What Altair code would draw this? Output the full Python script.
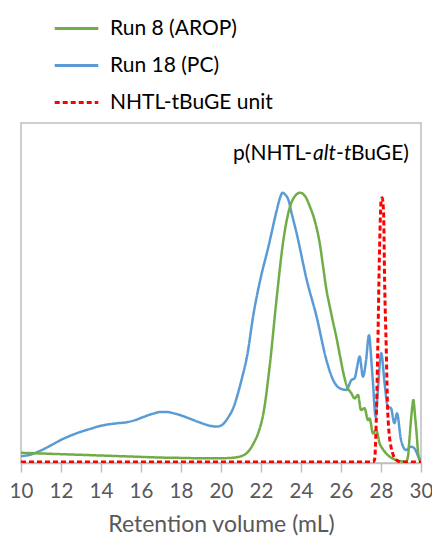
import altair as alt
import pandas as pd

# ---- data ----
series_names = ["Run 8 (AROP)", "Run 18 (PC)", "NHTL-tBuGE unit"]
series_colors = ["#70AD47", "#5B9BD5", "#FF0000"]

green_x = [10, 11, 12, 13, 14, 15, 16, 17, 18, 19, 20, 20.5, 21, 21.3, 21.63, 21.9, 22.12,
           22.45, 22.79, 23.12, 23.45, 23.7, 23.95, 24.2, 24.44, 24.7, 24.94, 25.1, 25.27,
           25.44, 25.6, 25.77, 25.95, 26.1, 26.3, 26.52, 26.68, 26.85, 27.0, 27.18, 27.35,
           27.43, 27.6, 27.76, 27.93, 28.1, 28.26, 28.5, 28.76, 29.0, 29.25, 29.35, 29.42,
           29.52, 29.62, 29.7, 29.78, 29.85, 29.92, 30.0]
green_y = [3.0, 2.8, 2.6, 2.4, 2.2, 2.0, 1.8, 1.6, 1.5, 1.4, 1.4, 1.5, 2.0, 3.0, 5.8, 9.5, 14.6,
           29.3, 48.9, 65.6, 75.4, 78.5, 79.5, 78.5, 75.5, 71.0, 64.5, 58.0, 51.0,
           46.0, 41.5, 37.0, 31.5, 27.0, 22.5, 20.5, 19.0, 20.0, 15.6, 16.1, 12.6,
           13.1, 8.7, 9.7, 5.8, 4.0, 2.8, 1.6, 0.9, 0.5, 0.4, 2.0, 6.8,
           14.0, 18.5, 14.0, 8.7, 3.5, 0.9, 0.5]

blue_x = [10, 10.5, 10.85, 11.5, 12, 12.5, 13, 13.5, 13.83, 14.3, 14.83, 15.3, 15.7, 16.15,
          16.6, 16.98, 17.3, 17.65, 18.1, 18.5, 18.9, 19.3, 19.6, 19.8, 20.05, 20.38, 20.6,
          20.8, 21.05, 21.3, 21.63, 21.96, 22.37, 22.79, 22.95, 23.08, 23.2, 23.37, 23.55,
          23.78, 24.28, 24.78, 25.27, 25.6, 25.93, 26.27, 26.52, 26.68, 26.8, 26.93, 27.1,
          27.25, 27.4, 27.52, 27.6, 27.73, 27.85, 28.01, 28.18, 28.34, 28.5, 28.67, 28.8,
          29.0, 29.25, 29.5, 29.67, 29.92, 30.0]
blue_y = [2.0, 2.5, 3.3, 5.2, 6.8, 8.1, 9.2, 10.1, 10.7, 11.3, 11.7, 12.0, 12.6, 13.6,
          14.5, 15.0, 15.0, 14.6, 13.8, 12.9, 12.0, 11.2, 10.8, 10.7, 11.2, 13.6, 16.0,
          19.5, 25.0, 31.3, 44.0, 53.8, 63.6, 74.4, 78.0, 79.5, 79.0, 77.4, 73.0,
          67.6, 54.0, 43.0, 30.3, 24.5, 22.0, 21.5, 24.4, 24.9, 28.0, 31.3, 25.4,
          30.0, 37.6, 30.0, 23.4, 13.6, 22.0, 32.3, 23.4, 16.6, 16.1, 11.7, 14.6,
          6.8, 3.8, 4.8, 4.3, 1.4, 1.0]

red_x = [10, 27.6, 27.68, 27.76, 27.84, 27.93, 28.01, 28.06, 28.13, 28.18, 28.26, 28.34,
         28.5, 28.76, 29.0, 30.0]
red_y = [0.3, 0.3, 1.0, 12.0, 34.2, 63.6, 77.4, 78.0, 73.4, 53.8, 34.2, 14.6,
         4.8, 0.9, 0.3, 0.3]

x_ticks = [10, 12, 14, 16, 18, 20, 22, 24, 26, 28, 30]

frames = []
for name, xs, ys in [(series_names[1], blue_x, blue_y),
                     (series_names[0], green_x, green_y),
                     (series_names[2], red_x, red_y)]:
    frames.append(pd.DataFrame({"vol": xs, "signal": ys, "series": name}))
df = pd.concat(frames, ignore_index=True)

FONT = "Lato"

legend_opts = dict(
    title=None, orient="none", legendX=32, legendY=-118,
    symbolType="stroke", symbolSize=1900, symbolStrokeWidth=3,
    labelFontSize=21, labelFont=FONT, labelColor="#000000", labelLimit=300,
    labelOffset=10, rowPadding=3, symbolOffset=0,
)
color = alt.Color(
    "series:N",
    scale=alt.Scale(domain=series_names, range=series_colors),
    legend=alt.Legend(**legend_opts),
)
dash = alt.StrokeDash(
    "series:N",
    scale=alt.Scale(domain=series_names, range=[[1, 0], [1, 0], [5, 3]]),
    legend=alt.Legend(**legend_opts),
)

x_enc = alt.X(
    "vol:Q",
    scale=alt.Scale(domain=[10, 30], nice=False, zero=False),
    axis=alt.Axis(
        values=x_ticks, title="Retention volume (mL)", grid=False,
        domainColor="#BFBFBF", domainWidth=1.5, tickColor="#BFBFBF", tickWidth=1.5,
        tickSize=9, labelFontSize=20.5, labelColor="#595959", labelFont=FONT,
        labelPadding=9, labelOverlap=False, labelFlush=False,
        titleFontSize=23, titleColor="#595959", titleFont=FONT,
        titleFontWeight="normal", titlePadding=12,
    ),
)
y_enc = alt.Y("signal:Q", scale=alt.Scale(domain=[0, 100], nice=False), axis=None)

def line_layer(name, width):
    return alt.Chart(df).transform_filter(alt.datum.series == name).mark_line(
        strokeWidth=width, interpolate="monotone", clip=True
    ).encode(x=x_enc, y=y_enc, color=color, strokeDash=dash)

one = pd.DataFrame({"k": [0]})

def label(txt, x, style="normal"):
    return alt.Chart(one).mark_text(
        align="left", baseline="middle", fontSize=21, font=FONT, color="#000000",
        fontStyle=style,
    ).encode(x=alt.value(x), y=alt.value(31), text=alt.value(txt))

ann = [
    label("p(NHTL-", 212),
    label("alt", 292, "italic"),
    label("-", 315),
    label("t", 323, "italic"),
    label("BuGE)", 330),
]

chart = alt.layer(
    line_layer(series_names[1], 2.5),
    line_layer(series_names[0], 2.5),
    line_layer(series_names[2], 3),
    *ann,
).properties(
    width=400, height=340,
    autosize=alt.AutoSizeParams(type="none"),
    padding={"left": 13, "top": 115, "right": 11, "bottom": 75},
    background="white",
).configure_view(stroke="#BFBFBF", strokeWidth=1.5)

chart.save("out.html", embed_options={"renderer": "svg", "actions": False})
